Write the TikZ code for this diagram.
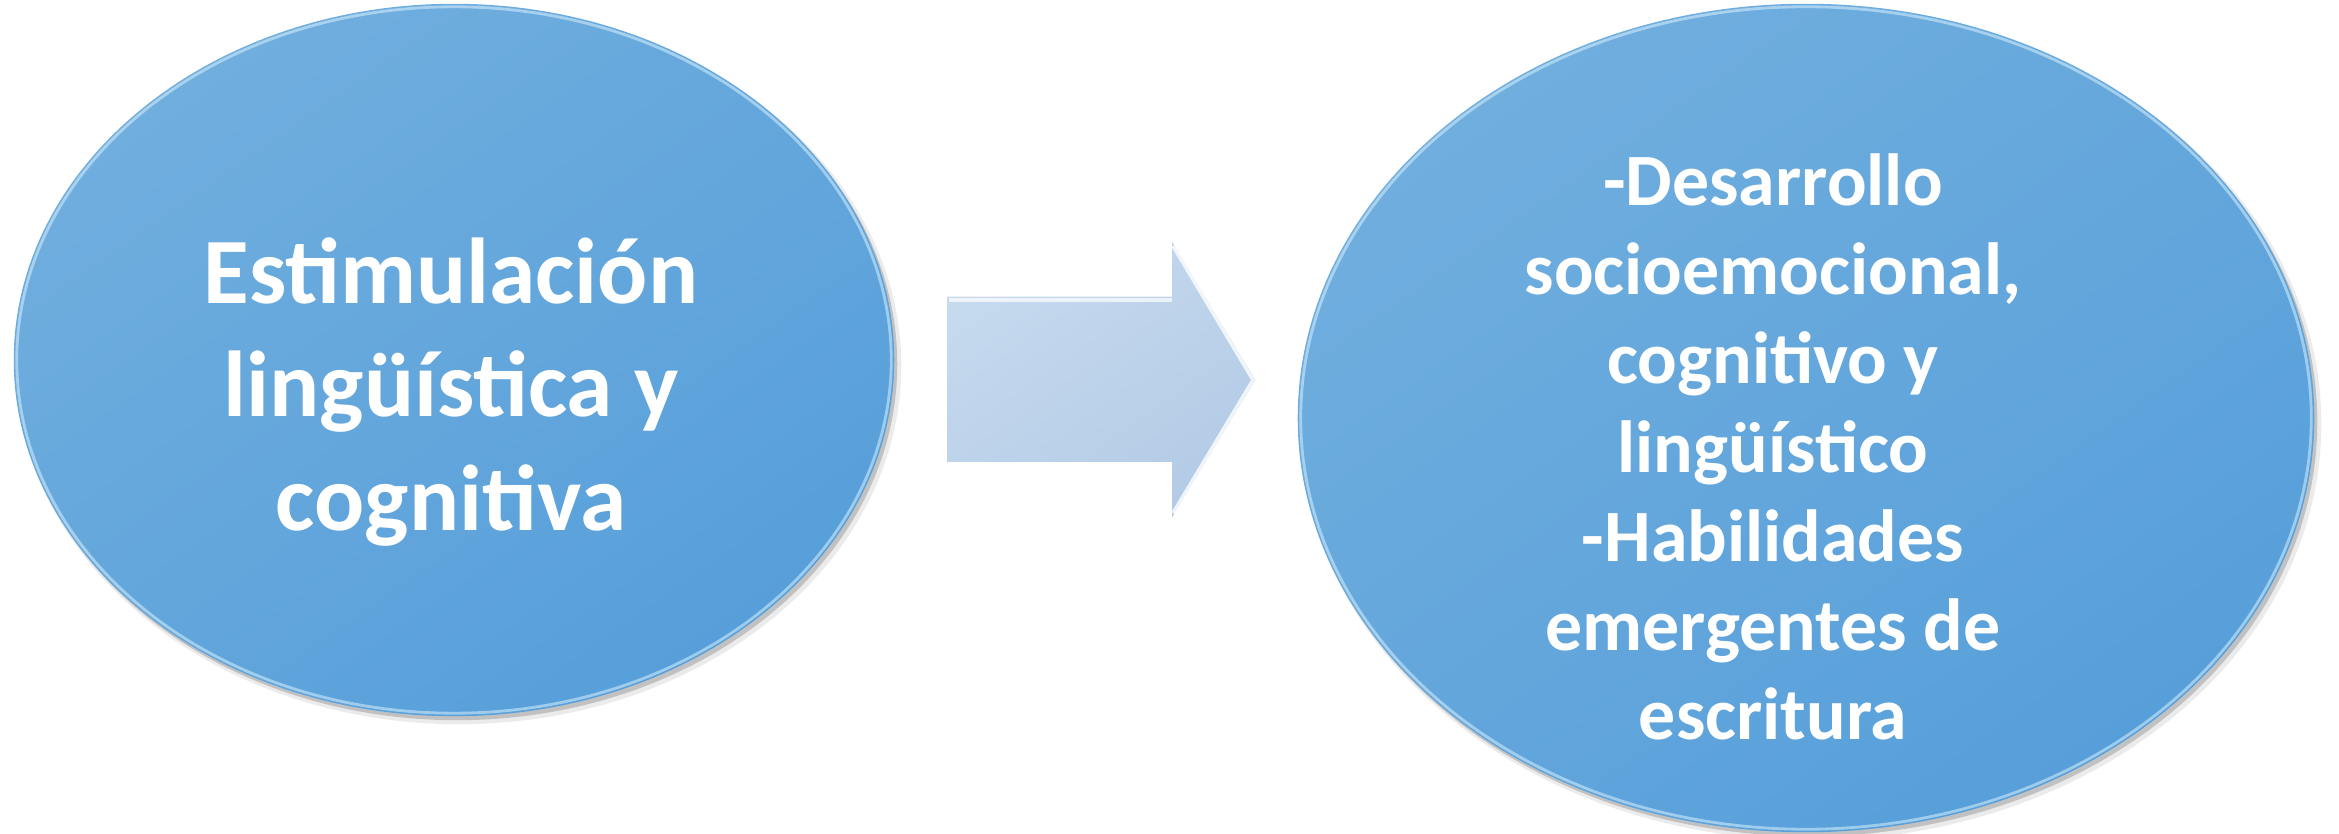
\documentclass[tikz,border=0pt]{standalone}
\usepackage{fontspec}
\setmainfont{Carlito}
\usetikzlibrary{calc}
\definecolor{balltop}{HTML}{70AEDE}
\definecolor{ballbot}{HTML}{579FDA}
\definecolor{arrtop}{HTML}{C6DAEE}
\definecolor{arrbot}{HTML}{B3CBE6}
\definecolor{rim}{HTML}{D8F1FC}
\tikzset{
  ballshade/.style={top color=balltop,bottom color=ballbot,shading angle=35},
  arrshade/.style={top color=arrtop,bottom color=arrbot,shading angle=35},
  softshadow/.style={fill=black,opacity=#1},
  rimline/.style={draw=rim,line width=0.8pt,opacity=.55},
  balltext/.style={text=white,font=\bfseries,align=center,inner sep=0pt}
}
\begin{document}
\begin{tikzpicture}[x=0.01cm,y=-0.01cm]
\useasboundingbox (0,0) rectangle (2339,834);
% ---- left ellipse
\coordinate (LC) at (454,360);
\fill[softshadow=.08] ($(LC)+(5,6)$) ellipse [x radius=4.42cm,y radius=3.58cm];
\fill[softshadow=.18] ($(LC)+(3,4)$) ellipse [x radius=4.40cm,y radius=3.56cm];
\shade[ballshade] (LC) ellipse [x radius=4.40cm,y radius=3.56cm];
\draw[rimline] (LC) ellipse [x radius=4.37cm,y radius=3.53cm];
% ---- right ellipse
\coordinate (RC) at (1806,418);
\fill[softshadow=.08] ($(RC)+(5,6)$) ellipse [x radius=5.10cm,y radius=4.16cm];
\fill[softshadow=.18] ($(RC)+(3,4)$) ellipse [x radius=5.08cm,y radius=4.14cm];
\shade[ballshade] (RC) ellipse [x radius=5.08cm,y radius=4.14cm];
\draw[rimline] (RC) ellipse [x radius=5.05cm,y radius=4.11cm];
% ---- block arrow
\coordinate (A1) at (947,297);
\coordinate (A2) at (1172,297);
\coordinate (A3) at (1172,242);
\coordinate (A4) at (1255,380);
\coordinate (A5) at (1172,517);
\coordinate (A6) at (1172,462);
\coordinate (A7) at (947,462);
\fill[softshadow=.30,shift={(3,4)}] (A1) -- (A2) -- (A3) -- (A4) -- (A5) -- (A6) -- (A7) -- cycle;
\shade[arrshade] (A1) -- (A2) -- (A3) -- (A4) -- (A5) -- (A6) -- (A7) -- cycle;
\draw[white,opacity=.7,line width=1pt] ($(A1)+(2,3)$) -- ($(A2)+(0,3)$);
\draw[white,opacity=.8,line width=1pt] ($(A3)+(1,4)$) -- ($(A4)+(-2,0)$) -- ($(A5)+(1,-4)$);
% ---- texts
\node[balltext,font=\bfseries\fontsize{26.6}{32.4}\selectfont] (ltext) at (451,392)
  {Estimulación\\lingüística y\\cognitiva};
\node[balltext,font=\bfseries\fontsize{21}{25.3}\selectfont] (rtext) at (1773,447)
  {-Desarrollo\\socioemocional,\\cognitivo y\\lingüístico\\-Habilidades\\emergentes de\\escritura};
\end{tikzpicture}
\end{document}
